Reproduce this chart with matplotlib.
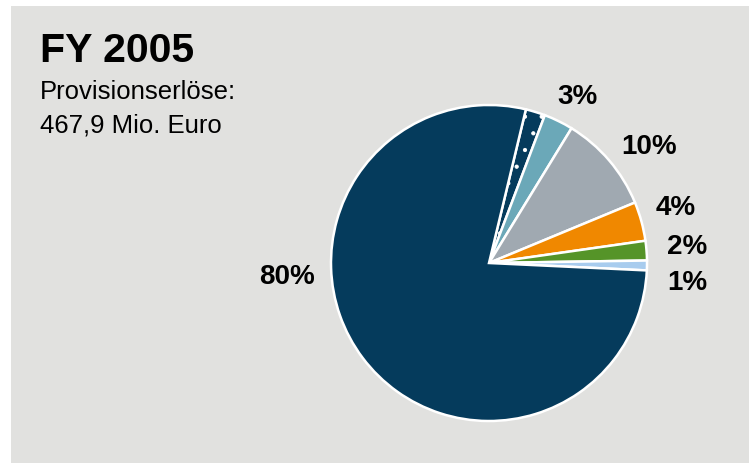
import numpy as np
import matplotlib
matplotlib.use("Agg")
import matplotlib.pyplot as plt
from matplotlib.patches import Rectangle

plt.rcParams['font.family'] = ['Liberation Sans', 'DejaVu Sans']
plt.rcParams['hatch.linewidth'] = 0.6

# shares of commission income FY 2005 (clockwise from the top)
segments = ['Teil A', 'Teil B', 'Teil C', 'Teil D', 'Teil E', 'Teil F', 'Teil G']
shares = [2, 3, 10, 4, 2, 1, 78]
labels = ['', '3%', '10%', '4%', '2%', '1%', '80%']
colors = ['#053b5c', '#6ba8b8', '#a0a9b1', '#f08800', '#559428', '#a8ccee', '#053b5c']
hatches = ['.', None, None, None, None, None, None]

# label placement: angle in degrees and distance in radii
label_angle = [0, 62, 36, 16.4, 4.6, -5.7, 184]
label_dist = [0, 1.19, 1.25, 1.23, 1.26, 1.26, 1.28]

W, H = 749, 463
fig = plt.figure(figsize=(W / 100, H / 100), dpi=100)
fig.patch.set_facecolor('white')
fig.add_artist(Rectangle((11 / W, 0), 1, (H - 6) / H, transform=fig.transFigure,
                         facecolor='#e1e1df', edgecolor='none', zorder=0))

ax = fig.add_axes([0, 0, 1, 1])
ax.set_facecolor('none')

cx, cy, r = 489, H - 263, 158
wedges, _ = ax.pie(shares, colors=colors, startangle=76.5, counterclock=False,
                   wedgeprops=dict(edgecolor='white', linewidth=1.8))
for w, h in zip(wedges, hatches):
    if h:
        w.set_hatch(h)

for lab, ang, d in zip(labels, label_angle, label_dist):
    if not lab:
        continue
    a = np.deg2rad(ang)
    ax.text(d * np.cos(a), d * np.sin(a), lab, ha='center', va='center',
            fontsize=20, fontweight='bold', color='black')

ax.set_xlim(-cx / r, (W - cx) / r)
ax.set_ylim(-cy / r, (H - cy) / r)
ax.set_aspect('auto')
ax.axis('off')

fig.text(40 / W, 1 - 61.7 / H, 'FY 2005', fontsize=29.5, fontweight='bold', va='baseline')
fig.text(40 / W, 1 - 99 / H, 'Provisionserlöse:', fontsize=18.5, va='baseline')
fig.text(40 / W, 1 - 132.3 / H, '467,9 Mio. Euro', fontsize=18.5, va='baseline')

fig.savefig('out.png', dpi=100)
